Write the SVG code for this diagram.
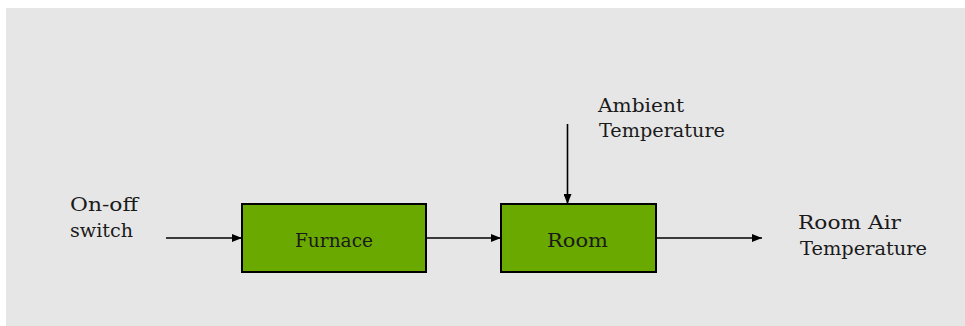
<svg xmlns="http://www.w3.org/2000/svg" width="965" height="326" viewBox="0 0 965 326">
  <style>
    .lbl { font-family: "DejaVu Serif", "Liberation Serif", serif; font-size: 19px; fill: #1a1a1a; }
    .block { fill: #6aa900; stroke: #000; stroke-width: 2; }
    .wire { stroke: #000; stroke-width: 1.6; fill: none; }
  </style>
  <defs>
    <marker id="head" markerWidth="10" markerHeight="8" refX="10" refY="4" orient="auto" markerUnits="userSpaceOnUse">
      <path d="M0,0 L10,4 L0,8 Z" fill="#000"/>
    </marker>
  </defs>

  <!-- panel -->
  <rect x="6" y="8" width="959" height="318" fill="#e6e6e6"/>

  <!-- connectors -->
  <g id="connectors">
    <line class="wire" x1="166" y1="238" x2="242" y2="238" marker-end="url(#head)"/>
    <line class="wire" x1="426" y1="238" x2="501" y2="238" marker-end="url(#head)"/>
    <line class="wire" x1="567.5" y1="124" x2="567.5" y2="204" marker-end="url(#head)"/>
    <line class="wire" x1="656" y1="238" x2="762" y2="238" marker-end="url(#head)"/>
  </g>

  <!-- input label -->
  <g id="switch-input">
    <text class="lbl" x="70" y="211" textLength="68" lengthAdjust="spacingAndGlyphs">On-off</text>
    <text class="lbl" x="70" y="237" textLength="63" lengthAdjust="spacingAndGlyphs">switch</text>
  </g>

  <!-- furnace block -->
  <g id="furnace">
    <rect class="block" x="242" y="204" width="184" height="68"/>
    <text class="lbl" x="295" y="247" textLength="78" lengthAdjust="spacingAndGlyphs">Furnace</text>
  </g>

  <!-- room block -->
  <g id="room">
    <rect class="block" x="501" y="204" width="155" height="68"/>
    <text class="lbl" x="547" y="247" textLength="61" lengthAdjust="spacingAndGlyphs">Room</text>
  </g>

  <!-- disturbance label -->
  <g id="ambient">
    <text class="lbl" x="598" y="112" textLength="86" lengthAdjust="spacingAndGlyphs">Ambient</text>
    <text class="lbl" x="599" y="137" textLength="126" lengthAdjust="spacingAndGlyphs">Temperature</text>
  </g>

  <!-- output label -->
  <g id="output">
    <text class="lbl" x="798" y="229" textLength="103" lengthAdjust="spacingAndGlyphs">Room Air</text>
    <text class="lbl" x="800" y="255" textLength="127" lengthAdjust="spacingAndGlyphs">Temperature</text>
  </g>
</svg>
